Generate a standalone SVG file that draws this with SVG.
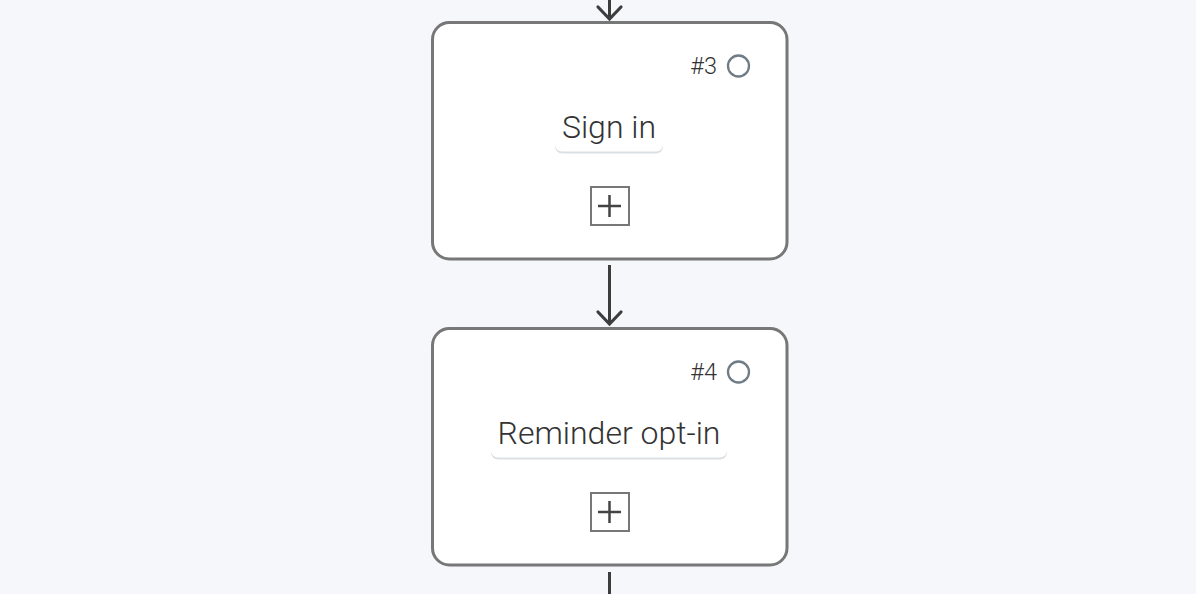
<svg xmlns="http://www.w3.org/2000/svg" width="1196" height="594" viewBox="0 0 1196 594">
<style>
.card{fill:#ffffff;stroke:#777777;stroke-width:3}
.num{font-family:Roboto,"Liberation Sans",sans-serif;font-size:23.5px;font-weight:300;fill:#333333;text-anchor:end}
.dot{fill:none;stroke:#6f7b85;stroke-width:2.3}
.title{font-family:Roboto,"Liberation Sans",sans-serif;font-size:32px;font-weight:300;fill:#333333;text-anchor:middle}
.lblsh{fill:#dbe0e6}
.lbl{fill:#ffffff}
.addbox{fill:#ffffff;stroke:#777777;stroke-width:2}
.plus{stroke:#444444;stroke-width:2.5;fill:none}
.edge{stroke:#3d3d3d;stroke-width:3;fill:none}
.head{stroke:#3d3d3d;stroke-width:3.2;fill:none;stroke-linecap:round;stroke-linejoin:miter}
</style>
<rect width="1196" height="594" fill="#f6f7fb"/>
<g id="connectors">
<line class="edge" x1="609.5" y1="0" x2="609.5" y2="18"/>
<polyline class="head" points="598,7 609.5,19 621,7"/>
<line class="edge" x1="609.5" y1="265" x2="609.5" y2="323"/>
<polyline class="head" points="598,312 609.5,324 621,312"/>
<line class="edge" x1="609.5" y1="572" x2="609.5" y2="594"/>
</g>
<g id="node3">
<rect class="card" x="432.5" y="22.5" width="354.5" height="236.5" rx="17"/>
<text class="num" x="717" y="73.5">#3</text>
<circle class="dot" cx="738.5" cy="66" r="10.5"/>
<rect class="lblsh" x="555" y="108.5" width="108" height="45" rx="7"/>
<rect class="lbl" x="555" y="106.5" width="108" height="45" rx="7"/>
<text class="title" x="609" y="137.5">Sign in</text>
<rect class="addbox" x="591" y="187" width="38" height="38"/>
<path class="plus" d="M598 206H621M609.5 195V217"/>
</g>
<g id="node4">
<rect class="card" x="432.5" y="328.5" width="354.5" height="236.5" rx="17"/>
<text class="num" x="717" y="379.5">#4</text>
<circle class="dot" cx="738.5" cy="372" r="10.5"/>
<rect class="lblsh" x="491" y="414.5" width="236" height="45" rx="7"/>
<rect class="lbl" x="491" y="412.5" width="236" height="45" rx="7"/>
<text class="title" x="609" y="443.5">Reminder opt-in</text>
<rect class="addbox" x="591" y="493" width="38" height="38"/>
<path class="plus" d="M598 512H621M609.5 501V523"/>
</g>
</svg>
